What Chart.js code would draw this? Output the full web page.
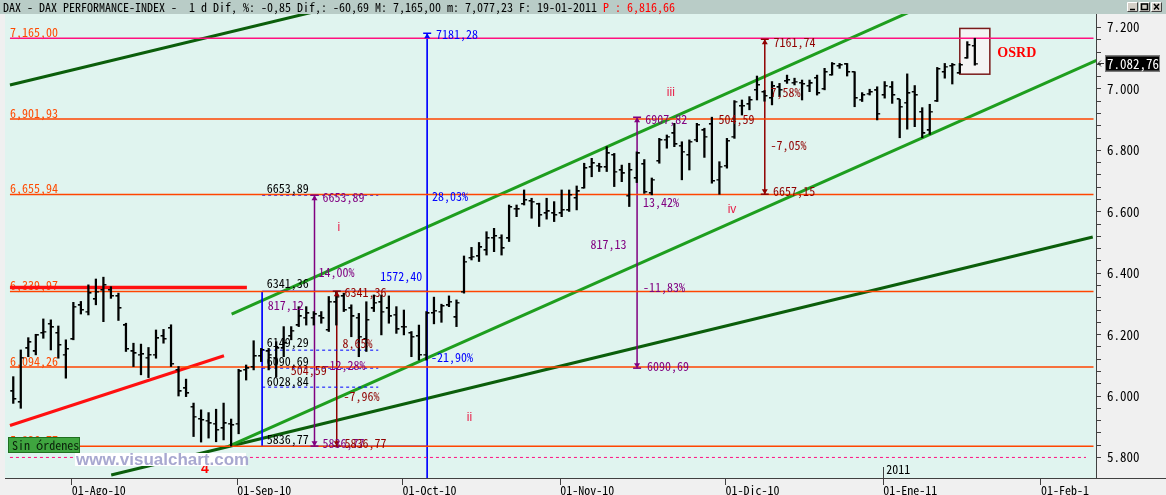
<!DOCTYPE html>
<html>
<head>
<meta charset="utf-8">
<script src="https://cdn.jsdelivr.net/npm/chart.js@4.4.0/dist/chart.umd.min.js"></script>
<style>
  html, body { margin: 0; padding: 0; background: #f0f0f0; overflow: hidden; }
  #wrap { width: 1166px; height: 495px; }
</style>
</head>
<body>
<div id="wrap"><canvas id="grafico" width="1166" height="495"></canvas></div>
<script>
// DAX diario, 21-07-2010 .. 19-01-2011 (indice = sesion)
const highs = [6063,6150,6190,6201,6251,6248,6228,6183,6305,6308,
  6362,6381,6387,6356,6335,6237,6172,6169,6158,6215,
  6217,6232,6096,6055,5977,5955,5946,5957,5977,5925,
  6087,6101,6180,6155,6155,6177,6226,6226,6291,6291,
  6275,6275,6324,6341,6335,6297,6269,6307,6329,6329,
  6326,6291,6280,6210,6231,6275,6322,6299,6326,6313,
  6456,6484,6500,6535,6546,6525,6622,6622,6671,6644,
  6628,6644,6633,6671,6671,6684,6758,6774,6758,6812,
  6790,6752,6758,6795,6770,6710,6839,6850,6888,6828,
  6834,6888,6872,6908,6763,6839,6962,6964,6975,7042,
  6995,7024,7018,7045,7035,7029,7029,7045,7067,7086,
  7083,7083,7056,6988,6999,7007,7024,7024,6966,7049,
  7011,6939,6950,7070,7083,7083,7083,7154,7165];
const lows = [5976,5960,6128,6134,6188,6150,6123,6058,6183,6267,
  6264,6297,6242,6318,6246,6145,6096,6069,6060,6123,
  6172,6096,6000,5998,5868,5850,5863,5851,5857,5837,
  5877,6052,6085,6112,6085,6063,6128,6183,6226,6231,
  6231,6237,6210,6231,6275,6193,6128,6145,6275,6199,
  6237,6204,6199,6128,6117,6117,6235,6240,6291,6226,
  6335,6443,6438,6459,6470,6459,6503,6584,6622,6579,
  6552,6576,6568,6584,6601,6606,6677,6714,6731,6731,
  6682,6698,6617,6695,6660,6655,6758,6807,6812,6704,
  6736,6828,6777,6693,6657,6742,6839,6915,6932,6964,
  6960,6948,6975,7018,7013,6964,6991,6980,6997,7045,
  7067,7042,6942,6959,6980,6899,6970,6953,6841,6869,
  6877,6841,6852,6959,7035,7016,7051,7100,7077.23];
const opens = [6015,5980,6155,6145,6205,6235,6205,6135,6185,6295,
  6275,6315,6345,6345,6325,6230,6145,6135,6125,6135,
  6195,6221,6085,6025,5965,5925,5920,5910,5895,5910,
  5910,6085,6095,6130,6145,6125,6155,6195,6230,6255,
  6255,6260,6215,6305,6325,6285,6255,6185,6285,6305,
  6285,6265,6225,6205,6195,6135,6270,6275,6295,6256,
  6340,6450,6455,6475,6515,6515,6513,6610,6625,6635,
  6625,6595,6595,6595,6605,6645,6677,6745,6750,6745,
  6785,6735,6652,6709,6755,6660,6765,6835,6855,6815,
  6785,6835,6865,6885,6705,6750,6845,6945,6950,6997,
  6990,6970,7005,7025,7020,7020,7010,7035,7000,7045,
  7075,7080,7055,6965,6985,6995,6980,7005,6966,6955,
  6990,6925,6865,6960,7055,7075,7051,7100,7140];
const closes = [5990,6125,6175,6198,6210,6224,6166,6153,6291,6280,
  6335,6340,6362,6326,6286,6153,6139,6136,6134,6188,
  6186,6105,6015,6009,5933,5922,5911,5890,5911,5905,
  6080,6090,6130,6150,6135,6155,6172,6213,6259,6269,
  6266,6253,6307,6324,6280,6259,6193,6248,6304,6275,
  6259,6217,6226,6193,6134,6269,6278,6293,6307,6304,
  6438,6454,6484,6514,6521,6481,6615,6608,6638,6633,
  6590,6601,6590,6606,6655,6666,6742,6758,6745,6790,
  6731,6725,6736,6790,6665,6705,6834,6845,6820,6796,
  6828,6883,6845,6700,6747,6831,6959,6945,6964,7013,
  6977,7008,6997,7029,7024,7016,7018,6986,7055,7081,
  7078,7055,6970,6980,6990,6919,7010,6980,6942,6986,
  6980,6855,6926,7065,7073,7078,7078,7143.45,7082.76];

// eje de fechas: sesion del primer dia de cada mes
const tickIdx = [8, 30, 52, 73, 95, 116, 137];
const tickLabels = ['01-Ago-10', '01-Sep-10', '01-Oct-10', '01-Nov-10', '01-Dic-10', '01-Ene-11', '01-Feb-1'];

// niveles horizontales
const levelValues = [7165.00, 6901.93, 6655.94, 6339.97, 6094.26, 5836.77];
const levelLabels = ['7,165,00', '6,901,93', '6,655,94', '6,339,97', '6,094,26', '5,836,77'];

// lineas de tendencia [i1, v1, i2, v2, color, grosor]
const trendLines = [
  [29.07, 6267, 121, 7269, '#1e9e1e', 3],
  [28.71, 5837, 144.2, 7093, '#1e9e1e', 3],
  [-0.44, 7013, 40, 7251, '#0b5e0b', 3],
  [13.04, 5743, 143.7, 6518, '#0b5e0b', 3],
  [-0.44, 5904, 28.05, 6131, '#ff1010', 3],
  [-0.44, 6353, 31.1, 6353, '#ff1010', 3.5]
];

// verticales [i, vArriba, vAbajo, color, grosor, flechaArriba, flechaAbajo]
const vLines = [
  [55.1, 7181.28, 5700, '#0000ff', 1, true, false],
  [33.13, 6341.36, 5836.77, '#0000ff', 1, false, false],
  [40.1, 6653.89, 5836.77, '#800080', 1.5, true, true],
  [43.06, 6341.36, 5836.77, '#900000', 1.5, true, true],
  [83.04, 6907.82, 6090.69, '#800080', 1.5, true, true],
  [100.04, 7161.74, 6657.15, '#900000', 1.5, true, true]
];

// horizontales cortas [i1, i2, v, color, discontinua]
const hSegs = [
  [33.13, 55.1, 6341.36, '#0000ff', false],
  [33.13, 55.1, 5836.77, '#0000ff', false],
  [33.13, 48.59, 6653.89, '#0000ff', true],
  [33.13, 48.59, 6149.29, '#0000ff', true],
  [33.13, 48.59, 6090.69, '#0000ff', true],
  [33.13, 48.59, 6028.84, '#0000ff', true]
];

// textos [texto, i, v, color]
const textos = [
  ['6653,89', 33.75, 6677, '#000000'],
  ['6341,36', 33.75, 6365, '#000000'],
  ['6149,29', 33.75, 6173, '#000000'],
  ['6090,69', 33.75, 6111, '#000000'],
  ['6028,84', 33.75, 6049, '#000000'],
  ['5836,77', 33.75, 5860, '#000000'],
  ['1572,40', 48.85, 6388, '#0000ff'],
  ['28,03%', 55.74, 6651, '#0000ff'],
  ['-21,90%', 55.61, 6127, '#0000ff'],
  ['7181,28', 56.27, 7176, '#0000ff'],
  ['6653,89', 41.17, 6648, '#800080'],
  ['817,12', 33.88, 6296, '#800080'],
  ['14,00%', 40.64, 6403, '#800080'],
  ['5836,77', 41.17, 5847, '#800080'],
  ['-12,28%', 41.3, 6101, '#800080'],
  ['6341,36', 44.08, 6337, '#900000'],
  ['8,65%', 43.82, 6170, '#900000'],
  ['504,59', 36.93, 6082, '#900000'],
  ['-7,96%', 43.95, 5997, '#900000'],
  ['5836,77', 44.08, 5847, '#900000'],
  ['6907,82', 84.14, 6901, '#800080'],
  ['13,42%', 83.83, 6630, '#800080'],
  ['817,13', 76.85, 6492, '#800080'],
  ['-11,83%', 83.83, 6354, '#800080'],
  ['6090,69', 84.36, 6095, '#800080'],
  ['7161,74', 101.19, 7153, '#900000'],
  ['7,58%', 100.8, 6989, '#900000'],
  ['504,59', 93.87, 6901, '#900000'],
  ['-7,05%', 100.8, 6815, '#900000'],
  ['6657,15', 101.15, 6665, '#900000']
];
// ondas [texto, i, v]
const ondas = [['i', 43.16, 6547], ['ii', 60.38, 5929], ['iii', 87.0, 6987], ['iv', 95.1, 6606]];

const ultimo = 7082.76;
const FONT = "'Noto Sans Mono CJK JP', 'DejaVu Sans Mono', monospace";
Chart.defaults.font.family = FONT;
Chart.defaults.font.size = 12;

function fmtEje(v) {
  const miles = Math.floor(v / 1000);
  return miles + '.' + String(v % 1000).padStart(3, '0');
}

function marca(lado) {
  const c = document.createElement('canvas');
  c.width = 8; c.height = 2;
  const g = c.getContext('2d');
  g.fillStyle = '#000';
  if (lado === 'izq') g.fillRect(1, 0, 3, 1.5); else g.fillRect(4, 0, 3, 1.5);
  return c;
}

function linea(puntos, color, grosor, dash) {
  return {
    type: 'line', data: puntos, borderColor: color, borderWidth: grosor,
    borderDash: dash || [], pointRadius: 0, tension: 0, fill: false, order: 5
  };
}

const datasets = [];
// barras OHLC
datasets.push({
  type: 'bar',
  data: highs.map((h, i) => ({ x: i, y: [lows[i], h] })),
  backgroundColor: '#000', barThickness: 1.6, order: 0
});
datasets.push({
  type: 'scatter', data: opens.map((o, i) => ({ x: i, y: o })),
  pointStyle: marca('izq'), order: 0
});
datasets.push({
  type: 'scatter', data: closes.map((c, i) => ({ x: i, y: c })),
  pointStyle: marca('der'), order: 0
});
levelValues.forEach((v, k) => {
  datasets.push(linea([{ x: -0.44, y: v }, { x: 143.8, y: v }], k === 0 ? '#ff1080' : '#ff4500', 1.5));
});
datasets.push(linea([{ x: -0.44, y: 5800 }, { x: 142.8, y: 5800 }], '#ff1080', 1, [3, 3]));
hSegs.forEach(s => datasets.push(linea([{ x: s[0], y: s[2] }, { x: s[1], y: s[2] }], s[3], 1, s[4] ? [3, 3] : [])));
vLines.forEach(s => datasets.push(linea([{ x: s[0], y: s[1] }, { x: s[0], y: s[2] }], s[3], s[4])));
trendLines.forEach(s => datasets.push(linea([{ x: s[0], y: s[1] }, { x: s[2], y: s[3] }], s[4], s[5])));

function flecha(ctx, x, y, dir, color) {
  ctx.strokeStyle = color; ctx.fillStyle = color; ctx.lineWidth = 1.5;
  ctx.beginPath(); ctx.moveTo(x - 4, y); ctx.lineTo(x + 4, y); ctx.stroke();
  ctx.beginPath(); ctx.moveTo(x, y); ctx.lineTo(x - 3, y - dir * 5); ctx.lineTo(x + 3, y - dir * 5);
  ctx.closePath(); ctx.fill();
}

const dibujo = {
  id: 'dibujo',
  beforeDraw(chart) {
    const { ctx, chartArea: a } = chart;
    ctx.save();
    ctx.fillStyle = '#f0f0f0'; ctx.fillRect(0, 0, chart.width, chart.height);
    ctx.fillStyle = '#e0f4ef'; ctx.fillRect(a.left, a.top, a.right - a.left, a.bottom - a.top);
    // cabecera
    ctx.fillStyle = '#b9ccc7'; ctx.fillRect(0, 0, chart.width, 14);
    ctx.font = '12px ' + FONT; ctx.textBaseline = 'middle'; ctx.textAlign = 'left';
    const t1 = 'DAX - DAX PERFORMANCE-INDEX -  1 d Dif, %: -0,85 Dif,: -60,69 M: 7,165,00 m: 7,077,23 F: 19-01-2011 ';
    ctx.fillStyle = '#000'; ctx.fillText(t1, 3, 7.5);
    ctx.fillStyle = '#ff0000'; ctx.fillText('P : 6,816,66', 3 + ctx.measureText(t1).width, 7.5);
    // botones de ventana
    [1127, 1139, 1151].forEach((bx, k) => {
      ctx.fillStyle = '#d4d0c8'; ctx.fillRect(bx, 2, 11, 10);
      ctx.strokeStyle = '#ffffff'; ctx.lineWidth = 1;
      ctx.beginPath(); ctx.moveTo(bx + 0.5, 11.5); ctx.lineTo(bx + 0.5, 2.5); ctx.lineTo(bx + 10.5, 2.5); ctx.stroke();
      ctx.strokeStyle = '#404040';
      ctx.beginPath(); ctx.moveTo(bx + 10.5, 2.5); ctx.lineTo(bx + 10.5, 11.5); ctx.lineTo(bx + 0.5, 11.5); ctx.stroke();
      ctx.strokeStyle = '#000'; ctx.lineWidth = 1.5;
      ctx.beginPath();
      if (k === 0) { ctx.moveTo(bx + 3, 9.5); ctx.lineTo(bx + 8, 9.5); }
      else if (k === 1) { ctx.rect(bx + 2.5, 4, 6, 5.5); }
      else { ctx.moveTo(bx + 3, 4); ctx.lineTo(bx + 8, 9.5); ctx.moveTo(bx + 8, 4); ctx.lineTo(bx + 3, 9.5); }
      ctx.stroke();
    });
    ctx.restore();
  },
  beforeDatasetsDraw(chart) {
    const { ctx, scales: { x, y } } = chart;
    ctx.save();
    ctx.font = '12px ' + FONT; ctx.textBaseline = 'middle'; ctx.textAlign = 'left';
    ctx.fillStyle = '#ff4a00';
    levelValues.forEach((v, k) => ctx.fillText(levelLabels[k], 10, y.getPixelForValue(v) - 6));
    // caja OSRD
    const x1 = x.getPixelForValue(126.0), x2 = x.getPixelForValue(130.0);
    const y1 = y.getPixelForValue(7197), y2 = y.getPixelForValue(7048);
    ctx.fillStyle = '#f4f4f4'; ctx.fillRect(x1, y1, x2 - x1, y2 - y1);
    ctx.strokeStyle = '#7a1a1a'; ctx.lineWidth = 1.5; ctx.strokeRect(x1, y1, x2 - x1, y2 - y1);
    ctx.restore();
  },
  afterDatasetsDraw(chart) {
    const { ctx, scales: { x, y }, chartArea: a } = chart;
    ctx.save();
    ctx.beginPath(); ctx.rect(a.left, a.top, a.right - a.left, a.bottom - a.top); ctx.clip();
    vLines.forEach(s => {
      const px = x.getPixelForValue(s[0]);
      if (s[5]) flecha(ctx, px, y.getPixelForValue(s[1]), -1, s[3]);
      if (s[6]) flecha(ctx, px, y.getPixelForValue(s[2]), 1, s[3]);
    });
    ctx.font = '12px ' + FONT; ctx.textBaseline = 'middle'; ctx.textAlign = 'left';
    textos.forEach(t => {
      ctx.fillStyle = t[3];
      ctx.fillText(t[0], x.getPixelForValue(t[1]), y.getPixelForValue(t[2]));
    });
    ctx.font = "12px 'Liberation Sans', sans-serif"; ctx.fillStyle = '#e8204a';
    ondas.forEach(t => ctx.fillText(t[0], x.getPixelForValue(t[1]), y.getPixelForValue(t[2])));
    ctx.font = "bold 14px 'Liberation Serif', serif"; ctx.fillStyle = '#ff0000';
    ctx.fillText('OSRD', x.getPixelForValue(131.0), y.getPixelForValue(7117));
    ctx.font = "bold 14px 'Liberation Sans', sans-serif"; ctx.textAlign = 'center';
    ctx.fillText('4', x.getPixelForValue(25.5), y.getPixelForValue(5763));
    ctx.restore();
  },
  afterDraw(chart) {
    const { ctx, scales: { x, y }, chartArea: a } = chart;
    ctx.save();
    // boton "Sin órdenes"
    ctx.fillStyle = '#3fa53f'; ctx.fillRect(8, 437, 72, 16);
    ctx.strokeStyle = '#1f6f1f'; ctx.lineWidth = 1; ctx.strokeRect(8.5, 437.5, 71, 15);
    ctx.font = '12px ' + FONT; ctx.textBaseline = 'middle'; ctx.textAlign = 'left';
    ctx.fillStyle = '#0a200a'; ctx.fillText('Sin órdenes', 12, 445.5);
    // marca de agua
    ctx.fillStyle = '#ffffff'; ctx.fillRect(75, 453, 171, 13);
    ctx.font = "bold 17px 'Liberation Sans', Arial, sans-serif"; ctx.fillStyle = '#a8a8d0';
    ctx.fillText('www.visualchart.com', 76, 460);
    // separador de año
    const px = x.getPixelForValue(116 - 0.2);
    ctx.strokeStyle = '#404040'; ctx.lineWidth = 1;
    ctx.beginPath(); ctx.moveTo(Math.round(px) + 0.5, a.bottom - 11); ctx.lineTo(Math.round(px) + 0.5, a.bottom); ctx.stroke();
    ctx.font = '12px ' + FONT; ctx.fillStyle = '#000';
    ctx.fillText('2011', px + 3, a.bottom - 9);
    // prolongacion del eje X
    ctx.beginPath(); ctx.moveTo(a.right, a.bottom + 0.5); ctx.lineTo(chart.width, a.bottom + 0.5); ctx.stroke();
    // etiqueta del ultimo precio
    const py = y.getPixelForValue(ultimo);
    ctx.fillStyle = '#000'; ctx.fillRect(1105, py - 8, 55, 16);
    ctx.strokeStyle = '#808080'; ctx.strokeRect(1105.5, py - 7.5, 54, 15);
    ctx.font = '13px ' + FONT;
    ctx.fillStyle = '#fff'; ctx.fillText('7.082,76', 1107, py + 0.5);
    ctx.strokeStyle = '#303030';
    ctx.beginPath(); ctx.moveTo(1098, py); ctx.lineTo(1104, py);
    ctx.moveTo(1101, py - 3); ctx.lineTo(1098, py); ctx.lineTo(1101, py + 3); ctx.stroke();
    ctx.restore();
  }
};

new Chart(document.getElementById('grafico'), {
  type: 'line',
  data: { datasets },
  options: {
    responsive: false,
    animation: false,
    events: [],
    layout: { padding: { top: 14, left: 0, right: 0, bottom: 0 } },
    plugins: { legend: { display: false }, tooltip: { enabled: false } },
    scales: {
      x: {
        type: 'linear', min: -1.1, max: 144.13, offset: false,
        afterFit: s => { s.height = 17; },
        afterBuildTicks: s => { s.ticks = tickIdx.map(v => ({ value: v - 0.2 })); },
        grid: { drawOnChartArea: false, offset: false, tickLength: 7, color: '#404040' },
        border: { color: '#404040', width: 1 },
        ticks: {
          autoSkip: false, maxRotation: 0, minRotation: 0, align: 'start', labelOffset: 0, padding: -2,
          color: '#000', font: { size: 12 },
          callback: (v, i) => tickLabels[i]
        }
      },
      y: {
        type: 'linear', position: 'right', min: 5733, max: 7244,
        afterFit: s => { s.width = 70; },
        afterBuildTicks: s => { s.ticks = s.ticks.filter(t => Math.round(t.value) % 40 === 0); },
        grid: { drawOnChartArea: false, tickLength: 5, color: '#404040' },
        border: { color: '#404040', width: 1 },
        ticks: {
          stepSize: 40, padding: 6, color: '#000', font: { size: 13 }, autoSkip: false,
          callback: v => (v % 200 === 0 ? fmtEje(v) : '')
        }
      }
    }
  },
  plugins: [dibujo]
});
</script>
</body>
</html>
